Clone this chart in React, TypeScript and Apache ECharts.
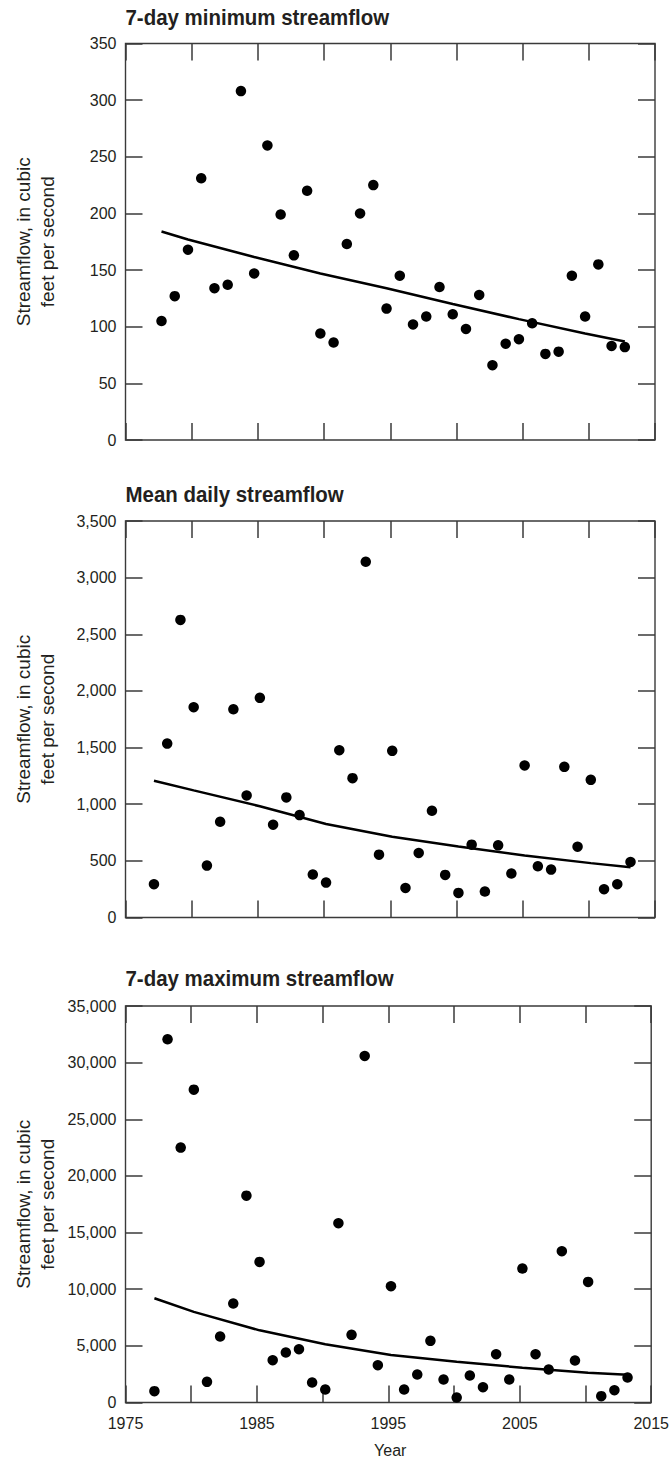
import React, { useEffect, useRef } from "react";
import * as echarts from "echarts";

// ---------- data ----------
const yearsMin = [
  1978, 1979, 1980, 1981, 1982, 1983, 1984, 1985, 1986, 1987, 1988, 1989,
  1990, 1991, 1992, 1993, 1994, 1995, 1996, 1997, 1998, 1999, 2000, 2001,
  2002, 2003, 2004, 2005, 2006, 2007, 2008, 2009, 2010, 2011, 2012, 2013,
];
const minFlow = [
  105, 127, 168, 231, 134, 137, 308, 147, 260, 199, 163, 220,
  94, 86, 173, 200, 225, 116, 145, 102, 109, 135, 111, 98,
  128, 66, 85, 89, 103, 76, 78, 145, 109, 155, 83, 82,
];
const yearsMeanMax = [
  1977, 1978, 1979, 1980, 1981, 1982, 1983, 1984, 1985, 1986, 1987, 1988,
  1989, 1990, 1991, 1992, 1993, 1994, 1995, 1996, 1997, 1998, 1999, 2000,
  2001, 2002, 2003, 2004, 2005, 2006, 2007, 2008, 2009, 2010, 2011, 2012, 2013,
];
const meanFlow = [
  294, 1535, 2627, 1856, 458, 845, 1838, 1077, 1939, 819, 1060, 904,
  379, 308, 1477, 1230, 3140, 555, 1471, 261, 570, 942, 376, 217,
  643, 229, 637, 388, 1342, 452, 423, 1330, 625, 1215, 250, 294, 490,
];
const maxFlow = [
  1000, 32059, 22500, 27618, 1823, 5823, 8735, 18260, 12411, 3735, 4411, 4706,
  1765, 1147, 15823, 5970, 30588, 3294, 10264, 1147, 2470, 5441, 2029, 441,
  2382, 1353, 4264, 2029, 11823, 4264, 2912, 13352, 3706, 10646, 559, 1088, 2206,
];
const trendYearsMin = [1978, 1980, 1985, 1990, 1995, 2000, 2005, 2010, 2013];
const trendMin = [184, 177, 161.5, 147, 134, 120, 106.7, 94, 87];
const trendYearsMeanMax = [1977, 1980, 1985, 1990, 1995, 2000, 2005, 2010, 2013];
const trendMean = [1207, 1122, 982, 825, 713, 626, 547, 480, 443];
const trendMax = [9206, 8000, 6370, 5140, 4190, 3600, 3070, 2630, 2450];

const xTickLabels = ["1975", "1985", "1995", "2005", "2015"];
const panelTitles = [
  "7-day minimum streamflow",
  "Mean daily streamflow",
  "7-day maximum streamflow",
];
const yAxisTitle = "Streamflow, in cubic\nfeet per second";
const xAxisTitle = "Year";

// ---------- layout / style ----------
const FONT = "'Liberation Sans', Arial, sans-serif";
const TEXT = "#231f20";
const FRAME = "#3a3a3a";
const GRID_LEFT = 125.5;
const GRID_RIGHT = 17;
const GRID_H = 396.5;

const panels = [
  { top: 43.5, max: 350, interval: 50, years: yearsMin, values: minFlow, shift: -0.28, tYears: trendYearsMin, tVals: trendMin, titleY: 18 },
  { top: 521, max: 3500, interval: 500, years: yearsMeanMax, values: meanFlow, shift: 0.15, tYears: trendYearsMeanMax, tVals: trendMean, titleY: 495 },
  { top: 1006, max: 35000, interval: 5000, years: yearsMeanMax, values: maxFlow, shift: 0.2, tYears: trendYearsMeanMax, tVals: trendMax, titleY: 978.5 },
];

function makeTick() {
  return { show: true, inside: true, length: 17, lineStyle: { color: FRAME, width: 1.5 } };
}
function hiddenLine() {
  return { show: false, onZero: false };
}

export default function App() {
  const ref = useRef<HTMLDivElement>(null);
  useEffect(() => {
    if (!ref.current) return;
    const chart = echarts.init(ref.current, null, { renderer: "svg" });
    const grids: any[] = [];
    const xAxes: any[] = [];
    const yAxes: any[] = [];
    const series: any[] = [];
    const graphics: any[] = [];
    panels.forEach((p, i) => {
      grids.push({
        left: GRID_LEFT,
        right: GRID_RIGHT,
        top: p.top,
        height: GRID_H,
        show: true,
        borderColor: FRAME,
        borderWidth: 1.4,
        backgroundColor: "transparent",
      });
      xAxes.push({
        gridIndex: i,
        type: "value",
        min: 1975,
        max: 2015,
        interval: 5,
        position: "bottom",
        axisLine: hiddenLine(),
        axisTick: makeTick(),
        splitLine: { show: false },
        axisLabel:
          i === 2
            ? {
                show: true,
                margin: 13,
                fontSize: 16,
                fontFamily: FONT,
                color: TEXT,
                showMinLabel: true,
                showMaxLabel: true,
                formatter: (v: number) => (xTickLabels.includes(String(v)) ? String(v) : ""),
              }
            : { show: false },
      });
      xAxes.push({
        gridIndex: i,
        type: "value",
        min: 1975,
        max: 2015,
        interval: 5,
        position: "top",
        axisLine: hiddenLine(),
        axisTick: makeTick(),
        splitLine: { show: false },
        axisLabel: { show: false },
      });
      yAxes.push({
        gridIndex: i,
        type: "value",
        min: 0,
        max: p.max,
        interval: p.interval,
        position: "left",
        axisLine: hiddenLine(),
        axisTick: makeTick(),
        splitLine: { show: false },
        axisLabel: {
          margin: 9,
          fontSize: 16,
          fontFamily: FONT,
          color: TEXT,
          showMinLabel: true,
          showMaxLabel: true,
          formatter: (v: number) => v.toLocaleString("en-US"),
        },
      });
      yAxes.push({
        gridIndex: i,
        type: "value",
        min: 0,
        max: p.max,
        interval: p.interval,
        position: "right",
        axisLine: hiddenLine(),
        axisTick: makeTick(),
        splitLine: { show: false },
        axisLabel: { show: false },
      });
      series.push({
        type: "line",
        xAxisIndex: 2 * i,
        yAxisIndex: 2 * i,
        data: p.tYears.map((y, k) => [y + p.shift, p.tVals[k]]),
        showSymbol: false,
        symbol: "none",
        lineStyle: { color: "#000", width: 2.5 },
        z: 2,
      });
      series.push({
        type: "scatter",
        xAxisIndex: 2 * i,
        yAxisIndex: 2 * i,
        data: p.years.map((y, k) => [y + p.shift, p.values[k]]),
        symbol: "circle",
        symbolSize: 10.5,
        itemStyle: { color: "#000", opacity: 1 },
        z: 3,
      });
      graphics.push({
        type: "text",
        x: GRID_LEFT,
        y: p.titleY,
        scaleX: 0.93,
        style: {
          text: panelTitles[i],
          font: `bold 22px ${FONT}`,
          fill: TEXT,
          textAlign: "left",
          textVerticalAlign: "middle",
        },
      });
      graphics.push({
        type: "text",
        x: 35,
        y: p.top + GRID_H / 2,
        rotation: Math.PI / 2,
        style: {
          text: yAxisTitle,
          font: `19px ${FONT}`,
          fill: TEXT,
          textAlign: "center",
          textVerticalAlign: "middle",
          lineHeight: 24,
        },
      });
    });
    graphics.push({
      type: "text",
      x: GRID_LEFT + (672 - GRID_LEFT - GRID_RIGHT) / 2,
      y: 1450,
      style: {
        text: xAxisTitle,
        font: `16px ${FONT}`,
        fill: TEXT,
        textAlign: "center",
        textVerticalAlign: "middle",
      },
    });
    chart.setOption({
      animation: false,
      backgroundColor: "#fff",
      grid: grids,
      xAxis: xAxes,
      yAxis: yAxes,
      series,
      graphic: graphics,
    });
    return () => chart.dispose();
  }, []);
  return (
    <div
      ref={ref}
      style={{ position: "absolute", left: 0, top: 0, width: 672, height: 1460 }}
    />
  );
}
